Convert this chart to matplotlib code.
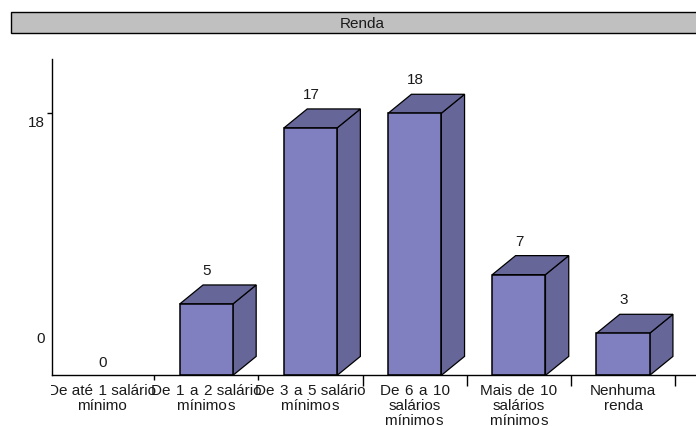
import matplotlib
matplotlib.use("Agg")
import matplotlib.pyplot as plt
from matplotlib.patches import Polygon, Rectangle
from matplotlib.transforms import Bbox

categories = ["De até \u200a1 salário\nmínimo", "De \u200a1 \u200aa \u200a2 salário\nmínimo\u200as",
              "De \u200a3 \u200aa \u200a5 salário\nmínimo\u200as",
              "De \u200a6 \u200aa \u200a10\nsalários\nmínimo\u200as",
              "Mais \u200ade \u200a10\nsalários\nmínimo\u200as", "Nenhuma\nrenda"]
values = [0, 5, 17, 18, 7, 3]
y_labels = [0, 18]
title = "Renda"

FRONT = "#8080C0"
SHADE = "#666699"
INK = "#1a1a1a"
W, H = 696, 427
DPI = 100
FS = 11

plt.rcParams["font.family"] = ["Liberation Sans", "DejaVu Sans"]
fig = plt.figure(figsize=(W / DPI, H / DPI), dpi=DPI)


def px_box(left, top, right, bottom):
    return [left / W, 1 - bottom / H, (right - left) / W, (bottom - top) / H]


# Banner carrying the chart title
banner = fig.add_axes(px_box(0, 0, W, H))
banner.set_xlim(0, W)
banner.set_ylim(H, 0)
banner.axis("off")
banner.add_patch(Rectangle((10.5, 12.5), W, 21.5, fc="#C0C0C0", ec="black", lw=1.0))
banner.text(362, 23.5, title, ha="center", va="center", fontsize=FS, color=INK)

# The axis line sits just above the zero of the value scale; columns rest on it
y_floor = 0.13
ax = fig.add_axes(px_box(52, 60, W, 376.4))
ax.set_xlim(-0.481, 5.70)
ax.set_ylim(y_floor, 21.70)
ax.patch.set_alpha(0)
for side in ("top", "right"):
    ax.spines[side].set_visible(False)
for side in ("left", "bottom"):
    ax.spines[side].set_linewidth(1.0)

# The two leftmost separators are shorter than the others
ax.set_xticks([2.5, 3.5, 4.5, 5.5])
ax.set_xticks([0.5, 1.5], minor=True)
ax.set_xticklabels([])
ax.tick_params(axis="x", which="major", length=8, width=1.0, direction="out")
ax.tick_params(axis="x", which="minor", length=3.6, width=1.0, direction="out")
ax.set_yticks([18])
ax.set_yticklabels([])
ax.tick_params(axis="y", length=3.6, width=1.0, direction="out")

half = 0.255


def depth_point(x, y):
    px = ax.transData.transform((x, y)) + (23.3, 19)
    return ax.transData.inverted().transform(px)


# Each column: shaded side and top behind a lighter front face
for i, v in enumerate(values):
    if v > 0:
        l, r = i - half, i + half
        side = [(r, y_floor), (r, v), depth_point(r, v), depth_point(r, y_floor)]
        top = [(l, v), (r, v), depth_point(r, v), depth_point(l, v)]
        ax.add_patch(Polygon(side, closed=True, fc=SHADE, ec="black", lw=0.9, joinstyle="miter", clip_on=False))
        ax.add_patch(Polygon(top, closed=True, fc=SHADE, ec="black", lw=0.9, joinstyle="miter", clip_on=False))
        ax.add_patch(Rectangle((l, y_floor), 2 * half, v - y_floor, fc=FRONT, ec="black", lw=1.1,
                               joinstyle="miter", clip_on=False))
    offset = 24.5 if v > 0 else 11
    ax.annotate(str(v), (i, v), xytext=(0.5, offset), textcoords="offset points",
                ha="center", va="center", fontsize=FS, color=INK, annotation_clip=False)

# Labels on the value axis sit away from their tick positions
for v, dy in zip(y_labels, (28, -6.5)):
    ax.annotate(str(v), (-0.481, v), xytext=(-5, dy), textcoords="offset points",
                ha="right", va="center", fontsize=FS, color=INK, annotation_clip=False)

# Category labels; the first one is cut off at the axis position
clip = Bbox([[50.5, 0], [W, H]])
for i, label in enumerate(categories):
    x_px = 102.1 + 104.2 * i
    t = banner.text(x_px, 384, label, ha="center", va="top", fontsize=FS,
                    color=INK, linespacing=1.08, clip_on=True)
    t.set_clip_box(clip)

fig.savefig("out.png", dpi=DPI, facecolor="white")
